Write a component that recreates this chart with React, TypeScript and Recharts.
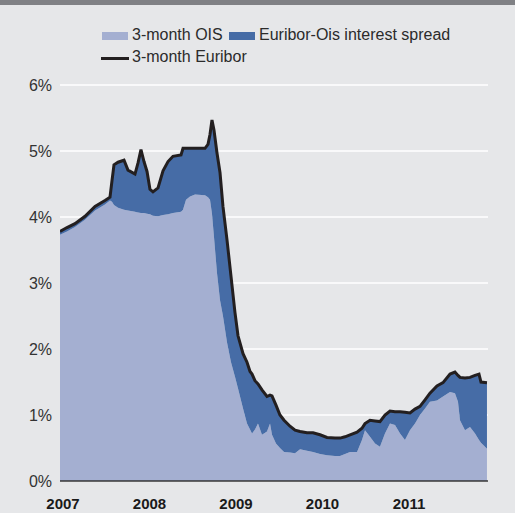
import React from "react";
import { ComposedChart, Area, Line, XAxis, YAxis, CartesianGrid } from "recharts";

// Decimal-year positions of the readings
const dates = [
  2007.0, 2007.081, 2007.173, 2007.289, 2007.405, 2007.52, 2007.578, 2007.601, 2007.624, 2007.671,
  2007.74, 2007.786, 2007.867, 2007.902, 2007.936, 2007.971, 2008.006, 2008.04, 2008.075, 2008.133,
  2008.191, 2008.249, 2008.306, 2008.399, 2008.422, 2008.457, 2008.503, 2008.561, 2008.676, 2008.711,
  2008.734, 2008.757, 2008.78, 2008.815, 2008.85, 2008.884, 2008.931, 2008.977, 2009.023, 2009.058,
  2009.116, 2009.162, 2009.197, 2009.22, 2009.254, 2009.289, 2009.335, 2009.393, 2009.428, 2009.451,
  2009.497, 2009.543, 2009.59, 2009.659, 2009.717, 2009.775, 2009.855, 2009.925, 2010.006, 2010.087,
  2010.179, 2010.237, 2010.295, 2010.353, 2010.434, 2010.491, 2010.526, 2010.584, 2010.642, 2010.699,
  2010.757, 2010.815, 2010.873, 2010.931, 2010.988, 2011.046, 2011.104, 2011.162, 2011.22, 2011.277,
  2011.358, 2011.428, 2011.509, 2011.566, 2011.601, 2011.624, 2011.682, 2011.74, 2011.798, 2011.844,
  2011.867, 2011.936,
];

// 3-month Euribor (%)
const euribor = [
  3.78, 3.84, 3.9, 4.01, 4.16, 4.25, 4.3, 4.55, 4.79, 4.83,
  4.86, 4.71, 4.65, 4.82, 5.02, 4.84, 4.69, 4.42, 4.38, 4.44,
  4.7, 4.84, 4.92, 4.94, 5.04, 5.04, 5.04, 5.04, 5.04, 5.1,
  5.25, 5.47, 5.32, 4.97, 4.67, 4.16, 3.65, 3.1, 2.55, 2.2,
  1.93, 1.8, 1.66, 1.62, 1.52, 1.47, 1.38, 1.28, 1.3, 1.29,
  1.15, 1.0, 0.92, 0.83, 0.77, 0.75, 0.73, 0.73, 0.7, 0.66,
  0.65, 0.65, 0.67, 0.7, 0.74, 0.8, 0.87, 0.92, 0.91, 0.9,
  1.0, 1.06, 1.05, 1.05, 1.04, 1.03, 1.09, 1.13, 1.23, 1.33,
  1.44, 1.49, 1.62, 1.65, 1.6, 1.57, 1.56, 1.57, 1.6, 1.62,
  1.5, 1.49,
];

// 3-month OIS (%)
const ois = [
  3.73, 3.78, 3.85, 3.96, 4.1, 4.19, 4.25, 4.23, 4.18, 4.14,
  4.11, 4.1, 4.08, 4.07, 4.06, 4.06, 4.05, 4.04, 4.02, 4.01,
  4.03, 4.04, 4.06, 4.08, 4.11, 4.26, 4.31, 4.34, 4.33, 4.3,
  4.26, 4.05, 3.7, 3.15, 2.74, 2.5, 2.1, 1.8, 1.58, 1.4,
  1.1, 0.87, 0.78, 0.72, 0.78, 0.87, 0.7, 0.75, 0.87, 0.7,
  0.57, 0.5, 0.44, 0.43, 0.42, 0.48, 0.46, 0.44, 0.41, 0.39,
  0.38, 0.38, 0.41, 0.44, 0.44, 0.62, 0.77, 0.67, 0.57, 0.52,
  0.72, 0.87, 0.85, 0.72, 0.62, 0.77, 0.87, 1.0, 1.1, 1.2,
  1.22, 1.28, 1.35, 1.33, 1.2, 0.92, 0.77, 0.82, 0.72, 0.62,
  0.58, 0.49,
];

const yearTicks = [2007, 2008, 2009, 2010, 2011];
const pctTicks = [0, 1, 2, 3, 4, 5, 6];

const OIS_COLOR = "#a4afd1";
const SPREAD_COLOR = "#466ca6";
const LINE_COLOR = "#231f20";
const FONT = "'Liberation Sans', Arial, Helvetica, sans-serif";

const data = dates.map((t, i) => ({
  t,
  ois: ois[i],
  spread: +(euribor[i] - ois[i]).toFixed(3),
  euribor: euribor[i],
}));

export default function App() {
  return (
    <div
      style={{
        position: "absolute",
        left: 0,
        top: 0,
        width: 515,
        height: 513,
        background: "#e6e7e9",
        fontFamily: FONT,
        overflow: "hidden",
      }}
    >
      <div style={{ position: "absolute", left: 0, top: 0, width: 515, height: 5, background: "#808185" }} />
      {/* Legend */}
      <div style={{ position: "absolute", left: 102, top: 32, width: 26, height: 8, background: OIS_COLOR }} />
      <div style={{ position: "absolute", left: 132, top: 26, fontSize: 16, color: "#2b2b2b", lineHeight: "18px", whiteSpace: "nowrap" }}>
        3-month OIS
      </div>
      <div style={{ position: "absolute", left: 229, top: 32, width: 26, height: 8, background: SPREAD_COLOR }} />
      <div style={{ position: "absolute", left: 259, top: 26, fontSize: 16, color: "#2b2b2b", lineHeight: "18px", whiteSpace: "nowrap" }}>
        Euribor-Ois interest spread
      </div>
      <div style={{ position: "absolute", left: 101, top: 57, width: 28, height: 2.5, background: LINE_COLOR }} />
      <div style={{ position: "absolute", left: 132, top: 48, fontSize: 16, color: "#2b2b2b", lineHeight: "18px", whiteSpace: "nowrap" }}>
        3-month Euribor
      </div>
      <div style={{ position: "absolute", left: 0, top: 0 }}>
        <ComposedChart
          width={515}
          height={513}
          data={data}
          margin={{ top: 85, right: 27, bottom: 0, left: 0 }}
        >
          <CartesianGrid horizontal vertical={false} stroke="#ffffff" strokeWidth={1.5} />
          <XAxis
            dataKey="t"
            type="number"
            domain={[2007, 2011.948]}
            ticks={yearTicks}
            allowDataOverflow
            height={32}
            axisLine={{ stroke: "#333333", strokeWidth: 1.5 }}
            tickLine={false}
            tickMargin={11}
            tick={{ fontSize: 15, fontWeight: "bold", fill: "#1a1a1a", fontFamily: FONT, dx: 3 }}
            tickFormatter={(v: number) => String(v)}
          />
          <YAxis
            type="number"
            domain={[0, 6]}
            ticks={pctTicks}
            width={60}
            axisLine={false}
            tickLine={false}
            tick={{ fontSize: 16, fill: "#333333", fontFamily: FONT }}
            tickFormatter={(v: number) => `${v}%`}
          />
          <Area
            type="linear"
            dataKey="ois"
            stackId="a"
            fill={OIS_COLOR}
            fillOpacity={1}
            stroke="none"
            isAnimationActive={false}
          />
          <Area
            type="linear"
            dataKey="spread"
            stackId="a"
            fill={SPREAD_COLOR}
            fillOpacity={1}
            stroke="none"
            isAnimationActive={false}
          />
          <Line
            type="linear"
            dataKey="euribor"
            stroke={LINE_COLOR}
            strokeWidth={3}
            dot={false}
            activeDot={false}
            isAnimationActive={false}
          />
        </ComposedChart>
      </div>
    </div>
  );
}
